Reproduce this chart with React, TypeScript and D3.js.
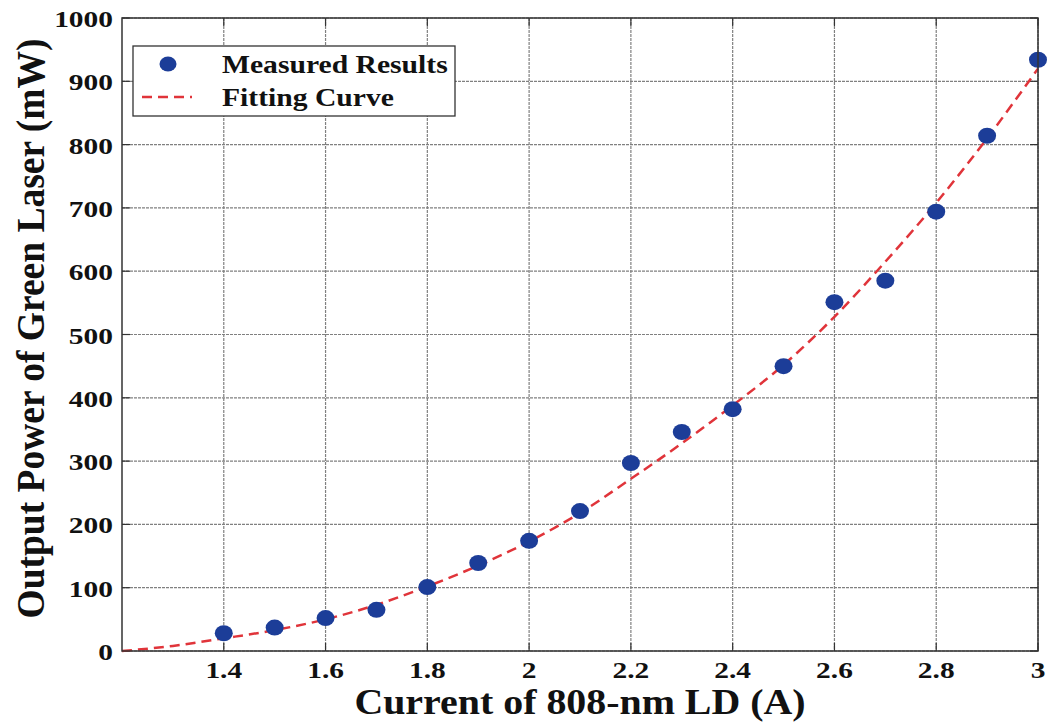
import React from "react";
import * as d3 from "d3";

const currents = [1.4, 1.5, 1.6, 1.7, 1.8, 1.9, 2.0, 2.1, 2.2, 2.3, 2.4, 2.5, 2.6, 2.7, 2.8, 2.9, 3.0];
const measured = [28, 37, 52, 65, 101, 139, 174, 221, 297, 346, 382, 450, 551, 585, 694, 814, 934];
const fitX = [1.2, 1.3, 1.4, 1.5, 1.6, 1.7, 1.8, 1.9, 2.0, 2.1, 2.2, 2.3, 2.4, 2.5, 2.6, 2.7, 2.8, 2.9, 3.0];
const fitY = [0, 8, 20, 33, 50, 73, 102, 135, 173, 218, 272, 328, 388, 452, 528, 615, 708, 810, 920];
const xTicks = [1.4, 1.6, 1.8, 2, 2.2, 2.4, 2.6, 2.8, 3];
const yTicks = [0, 100, 200, 300, 400, 500, 600, 700, 800, 900, 1000];

const W = 1048, H = 722;
const L = 122, R = 1038, T = 18, B = 651;
const font = "'Liberation Serif', 'Times New Roman', serif";

function SText(props: { x: number; y: number; sx: number; size: number; anchor?: string; children: React.ReactNode }) {
  return (
    <text
      transform={`translate(${props.x},${props.y}) scale(${props.sx},1)`}
      textAnchor={props.anchor || "start"}
      fontFamily={font}
      fontWeight="bold"
      fontSize={props.size}
      fill="#111"
    >
      {props.children}
    </text>
  );
}

export default function App() {
  const x = d3.scaleLinear().domain([1.2, 3]).range([L, R]);
  const y = d3.scaleLinear().domain([0, 1000]).range([B, T]);
  const line = d3
    .line<number>()
    .x((_, i) => x(fitX[i]))
    .y((d) => y(d))
    .curve(d3.curveMonotoneX);
  const blue = "#1c3d98";
  const red = "#e0343a";
  return (
    <svg width={W} height={H} style={{ position: "absolute", left: 0, top: 0, background: "#fff" }}>
      <rect x={0} y={0} width={W} height={H} fill="#fff" />
      {xTicks.map((t) => (
        <line key={"gx" + t} x1={x(t)} x2={x(t)} y1={T} y2={B} stroke="#808080" strokeWidth={1.2} strokeDasharray="3,1" />
      ))}
      {yTicks.map((t) => (
        <line key={"gy" + t} x1={L} x2={R} y1={y(t)} y2={y(t)} stroke="#808080" strokeWidth={1.2} strokeDasharray="3,1" />
      ))}
      {xTicks.map((t) => (
        <g key={"tx" + t}>
          <line x1={x(t)} x2={x(t)} y1={B} y2={B - 8} stroke="#333" strokeWidth={1.2} />
          <line x1={x(t)} x2={x(t)} y1={T} y2={T + 8} stroke="#333" strokeWidth={1.2} />
          <SText x={x(t)} y={B + 27} sx={1.28} size={23} anchor="middle">{String(t)}</SText>
        </g>
      ))}
      {yTicks.map((t) => (
        <g key={"ty" + t}>
          <line x1={L} x2={L + 8} y1={y(t)} y2={y(t)} stroke="#333" strokeWidth={1.2} />
          <line x1={R} x2={R - 8} y1={y(t)} y2={y(t)} stroke="#333" strokeWidth={1.2} />
          <SText x={L - 9} y={y(t) + 9} sx={1.28} size={23} anchor="end">{String(t)}</SText>
        </g>
      ))}
      <path d={line(fitY) || ""} fill="none" stroke={red} strokeWidth={2.5} strokeDasharray="10,6" />
      {currents.map((c, i) => (
        <ellipse key={"p" + i} cx={x(c)} cy={y(measured[i])} rx={9} ry={8} fill={blue} />
      ))}
      <rect x={L} y={T} width={R - L} height={B - T} fill="none" stroke="#333" strokeWidth={1.5} />
      <rect x={133} y={46} width={322} height={70} fill="#fff" stroke="#333" strokeWidth={1.3} />
      <ellipse cx={168} cy={64} rx={8.5} ry={7.5} fill={blue} />
      <line x1={142} x2={192} y1={97} y2={97} stroke={red} strokeWidth={2.5} strokeDasharray="10,6" />
      <SText x={222} y={73} sx={1.14} size={26}>Measured Results</SText>
      <SText x={222} y={106} sx={1.14} size={26}>Fitting Curve</SText>
      <SText x={(L + R) / 2} y={714} sx={1.14} size={35} anchor="middle">Current of 808-nm LD (A)</SText>
      <text
        transform={`translate(44, ${(T + B) / 2 - 6}) scale(1.08,1) rotate(-90)`}
        textAnchor="middle"
        fontFamily={font}
        fontWeight="bold"
        fontSize={37.5}
        fill="#111"
      >
        Output Power of Green Laser (mW)
      </text>
    </svg>
  );
}
